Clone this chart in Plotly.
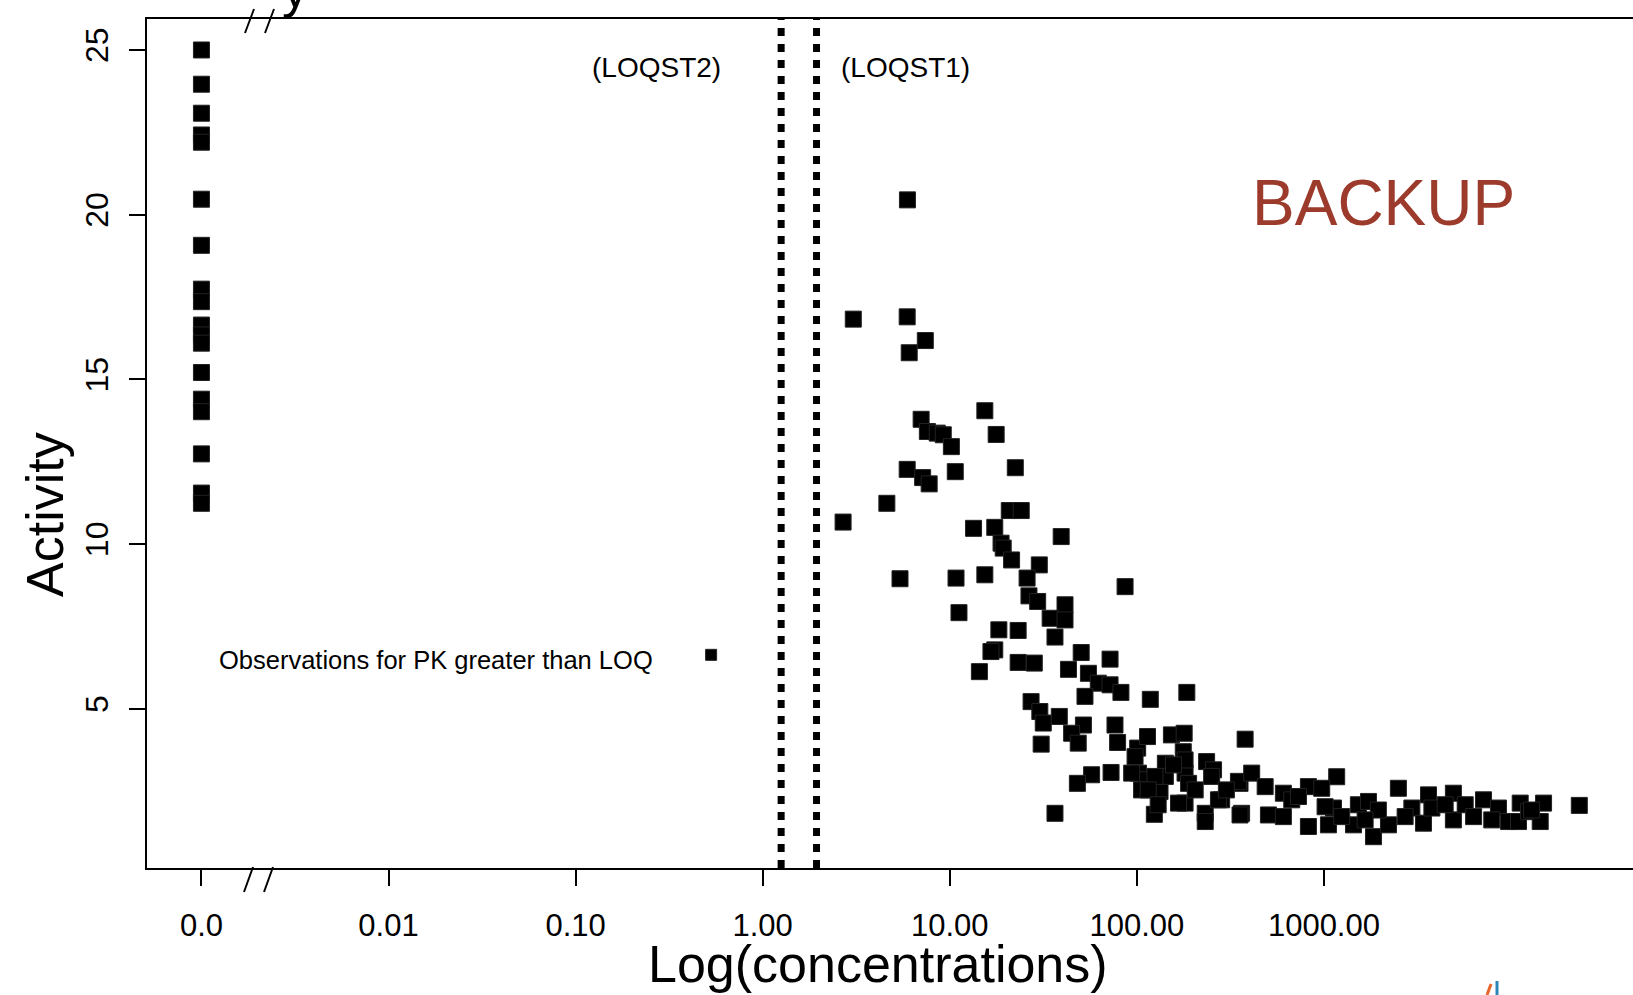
import math
import plotly.graph_objects as go

# ---------------- data ----------------
zero_conc = [0.0] * 18
zero_activity = [25.0, 23.96, 23.08, 22.42, 22.2, 20.47, 19.07, 17.74, 17.36,
                 16.65, 16.35, 16.1, 15.21, 14.4, 14.02, 12.74, 11.55, 11.24]

pk_conc = [5.94, 3.05, 5.92, 6.07, 7.40, 2.69, 4.61, 5.42, 5.92, 7.03, 7.59, 8.57, 9.23, 10.2,
           15.4, 17.7, 7.16, 7.76, 10.7, 22.4, 13.4, 17.4, 20.8, 24.1, 39.4, 18.8, 19.3, 21.4,
           30.1, 10.8, 15.4, 25.9, 26.5, 29.5, 41.3, 34.4, 41.3, 86.5, 11.2, 36.5, 18.3, 23.2,
           17.4, 16.6, 14.4, 23.2, 28.3, 50.4, 71.9, 43.1, 55.1, 62.2, 71.9, 82.2, 52.8, 118,
           185, 27.2, 30.3, 31.6, 38.5, 51.8, 44.8, 48.6, 76.4, 78.9, 30.8, 101, 114, 153, 179,
           177, 379, 57.3, 48.1, 72.8, 36.5, 124, 102, 120, 133, 142, 181, 236, 257, 181, 232,
           232, 284, 356, 363, 189, 111, 97.8, 93.8, 106, 167, 142, 181, 251, 125, 115, 273,
           349, 411, 485, 356, 505, 607, 607, 673, 130, 205, 301, 157, 1170, 826, 973, 826,
           1057, 1125, 1528, 1730, 1841, 1439, 2213, 1954, 2500, 2951, 3404, 3622, 3776, 4920,
           4920, 4446, 5689, 6310, 7129, 8570, 9705, 11194, 10965, 12417, 14322, 14928, 23174,
           731, 1245, 1660, 1014, 2716, 7890, 12880]
pk_activity = [20.45, 16.83, 16.90, 15.81, 16.18, 10.67, 11.24, 8.95, 12.27, 13.79, 13.42, 13.37,
               13.32, 12.96, 14.05, 13.33, 12.02, 11.83, 12.20, 12.32, 10.48, 10.51, 11.02, 11.02,
               10.23, 10.03, 9.88, 9.52, 9.37, 8.97, 9.07, 8.97, 8.43, 8.26, 8.16, 7.75, 7.70,
               8.71, 7.92, 7.18, 7.40, 7.38, 6.79, 6.74, 6.13, 6.41, 6.39, 6.71, 6.51, 6.20, 6.08,
               5.78, 5.73, 5.50, 5.38, 5.29, 5.50, 5.22, 4.92, 4.57, 4.77, 4.51, 4.26, 3.96, 4.51,
               3.98, 3.93, 3.81, 4.16, 4.21, 4.26, 3.70, 4.08, 3.00, 2.74, 3.07, 1.83, 1.80, 3.05,
               2.64, 2.49, 3.35, 3.05, 3.40, 3.15, 2.14, 1.83, 1.58, 2.24, 2.74, 1.83, 2.74, 2.85,
               3.55, 3.05, 2.54, 2.14, 2.95, 3.45, 2.95, 2.95, 2.54, 2.24, 2.80, 3.05, 2.64, 1.78,
               1.78, 2.44, 1.73, 2.24, 2.09, 2.54, 2.54, 3.30, 2.94, 2.64, 2.59, 1.43, 1.48, 1.99,
               2.09, 2.19, 1.12, 1.48, 1.48, 1.93, 2.59, 1.99, 1.53, 2.39, 1.99, 2.44, 1.63, 2.09,
               2.09, 1.73, 2.24, 1.99, 1.58, 2.14, 1.58, 1.88, 1.58, 2.14, 2.07, 2.34, 1.73, 1.63,
               2.03, 1.73, 1.63, 1.93]

legend_conc = [0.53]
legend_activity = [6.64]

loq_values = [1.255, 1.94]
loq_labels = ["(LOQST2)", "(LOQST1)"]

x_tick_vals = [0.001, 0.01, 0.1, 1, 10, 100, 1000]
x_tick_text = ["0.0", "0.01", "0.10", "1.00", "10.00", "100.00", "1000.00"]
y_tick_vals = [5, 10, 15, 20, 25]

# ---------------- layout helpers ----------------
W, H = 1633, 995
ML, MR, MT, MB = 147, 0, 19, 127
PW, PH = W - ML - MR, H - MT - MB
ZERO_POS = 0.001  # where the "0.0" (zero concentration) group is drawn on the broken log axis
FONT = "Liberation Sans, Arial, Helvetica, sans-serif"


def px(X):
    return (X - ML) / PW


def py(Y):
    return (H - MB - Y) / PH


zero_x = [ZERO_POS if c == 0 else c for c in zero_conc]

marker = dict(symbol="square", color="black", size=16, line=dict(color="#222222", width=1))

fig = go.Figure()
fig.add_trace(go.Scatter(x=zero_x, y=zero_activity, mode="markers", marker=marker,
                         showlegend=False, hoverinfo="skip"))
fig.add_trace(go.Scatter(x=pk_conc, y=pk_activity, mode="markers", marker=marker,
                         showlegend=False, hoverinfo="skip"))
fig.add_trace(go.Scatter(x=legend_conc, y=legend_activity, mode="markers",
                         marker=dict(symbol="square", color="black", size=11,
                                     line=dict(color="#222222", width=1)),
                         showlegend=False, hoverinfo="skip"))

shapes = []
for v in loq_values:
    shapes.append(dict(type="line", xref="x", yref="paper", x0=v, x1=v,
                       y0=0, y1=1, line=dict(color="black", width=7, dash="8px,8px")))

# axis break marks
for (x0, y0, x1, y1) in [(245, 33, 254, 9), (265, 33, 274, 9),
                         (244, 892, 253, 867), (264, 892, 273, 867)]:
    shapes.append(dict(type="line", xref="paper", yref="paper", x0=px(x0), y0=py(y0),
                       x1=px(x1), y1=py(y1), line=dict(color="black", width=2)))

# small logo fragment at bottom right
shapes.append(dict(type="line", xref="paper", yref="paper", x0=px(1487), y0=py(995),
                   x1=px(1491), y1=py(984), line=dict(color="#E8652C", width=3)))
shapes.append(dict(type="line", xref="paper", yref="paper", x0=px(1497), y0=py(995),
                   x1=px(1497), y1=py(981), line=dict(color="#2A86B8", width=3)))

annotations = [
    dict(text="Activity", xref="paper", yref="paper", x=px(45), y=py(515), textangle=-90,
         showarrow=False, xanchor="center", yanchor="middle", font=dict(size=52, color="black")),
    dict(text="Log(concentrations)", xref="paper", yref="paper", x=px(878), y=py(964),
         showarrow=False, xanchor="center", yanchor="middle", font=dict(size=52, color="black")),
    dict(text=loq_labels[0], xref="x", yref="paper", x=math.log10(loq_values[0]), xshift=-58,
         y=py(68), showarrow=False, xanchor="right", yanchor="middle",
         font=dict(size=28, color="black")),
    dict(text=loq_labels[1], xref="x", yref="paper", x=math.log10(loq_values[1]), xshift=22,
         y=py(68), showarrow=False, xanchor="left", yanchor="middle",
         font=dict(size=28, color="black")),
    dict(text="BACKUP", xref="paper", yref="paper", x=px(1383), y=py(203), showarrow=False,
         xanchor="center", yanchor="middle", font=dict(size=64, color="#9C3B2C")),
    dict(text="Observations for PK greater than LOQ", xref="paper", yref="paper", x=px(217),
         y=py(660), showarrow=False, xanchor="left", yanchor="middle",
         font=dict(size=25.5, color="black")),
    dict(text="y", xref="paper", yref="paper", x=px(295), y=py(20), showarrow=False,
         xanchor="center", yanchor="bottom", font=dict(size=53, color="black")),
]

fig.update_layout(
    width=W, height=H,
    margin=dict(l=ML, r=MR, t=MT, b=MB, pad=0),
    paper_bgcolor="white", plot_bgcolor="white",
    font=dict(family=FONT, color="black"),
    shapes=shapes, annotations=annotations,
    xaxis=dict(type="log", range=[-3.291, 4.652], tickmode="array", tickvals=x_tick_vals,
               ticktext=x_tick_text, ticks="outside", ticklen=16, tickwidth=2, tickcolor="black",
               showline=True, linewidth=2, linecolor="black", mirror=True, showgrid=False,
               zeroline=False, tickfont=dict(size=31), ticklabelstandoff=13),
    yaxis=dict(range=[0.17, 25.94], tickmode="array", tickvals=y_tick_vals, ticks="outside",
               ticklen=16, tickwidth=2, tickcolor="black", showline=True, linewidth=2,
               linecolor="black", mirror=False, showgrid=False, zeroline=False, tickangle=-90,
               tickfont=dict(size=32), ticklabelstandoff=8),
)

fig.write_html("out.html")
